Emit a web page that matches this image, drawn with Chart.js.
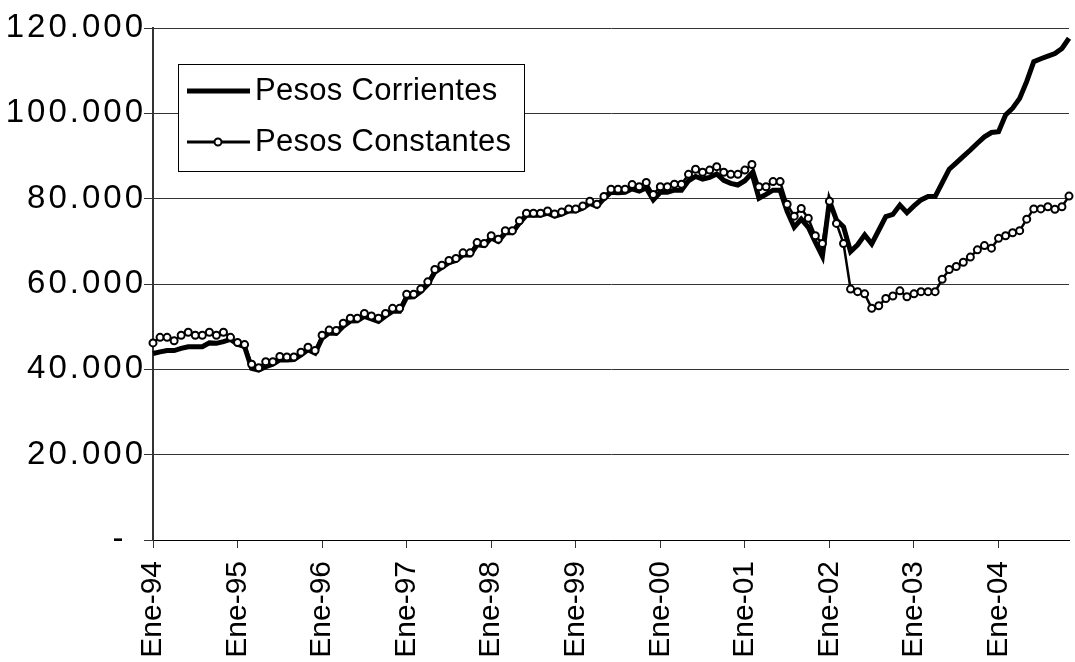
<!DOCTYPE html>
<html>
<head>
<meta charset="utf-8">
<script src="https://cdn.jsdelivr.net/npm/chart.js@4.4.1/dist/chart.umd.min.js"></script>
<style>
  html, body { margin: 0; padding: 0; background: #fff; }
  #wrap { position: relative; width: 1075px; height: 662px; }
</style>
</head>
<body>
<div id="wrap"><canvas id="chart"></canvas></div>
<script>
// Months Jan-94 .. Nov-04, values in thousands of pesos
const monthNames = ["Ene", "Feb", "Mar", "Abr", "May", "Jun", "Jul", "Ago", "Sep", "Oct", "Nov", "Dic"];
const yearNames = ["94", "95", "96", "97", "98", "99", "00", "01", "02", "03", "04"];
const yTickLabels = ["-\u2002", "20.000", "40.000", "60.000", "80.000", "100.000", "120.000"];
const seriesNames = ["Pesos Corrientes", "Pesos Constantes"];

const corrientes = [
  43.7, 44.1, 44.4, 44.4, 44.9, 45.3, 45.3, 45.3, 46.2, 46.1, 46.5, 47.0,
  45.9, 45.3, 40.2, 39.8, 40.6, 41.2, 42.2, 42.2, 42.3, 43.4, 44.6, 43.8,
  47.3, 48.5, 48.4, 50.1, 51.3, 51.4, 52.4, 51.8, 51.2, 52.5, 53.6, 53.6,
  56.9, 57.0, 58.2, 59.9, 62.8, 63.9, 65.0, 65.5, 66.8, 66.8, 69.2, 69.0,
  70.8, 70.0, 72.0, 72.0, 74.3, 76.1, 76.1, 76.1, 76.6, 75.9, 76.4, 77.1,
  77.1, 77.8, 78.9, 78.2, 80.0, 81.5, 81.4, 81.5, 82.3, 81.8, 82.5, 79.7,
  81.5, 81.5, 82.0, 82.0, 84.2, 85.2, 84.6, 85.0, 85.8, 84.3, 83.6, 83.2,
  84.2, 86.0, 80.1, 81.0, 82.0, 82.0, 77.0, 73.3, 75.2, 73.3, 69.8, 66.5,
  79.5, 75.0, 73.4, 67.6, 69.2, 71.5, 69.4, 72.6, 75.8, 76.3, 78.5, 76.7,
  78.3, 79.7, 80.5, 80.5, 83.7, 86.9, 88.4, 89.9, 91.4, 93.0, 94.5, 95.5,
  95.7, 99.6, 101.2, 103.5, 107.5, 112.1, 112.8, 113.4, 114.0, 115.2, 117.6
];

const constantes = [
  46.2, 47.5, 47.5, 46.7, 48.0, 48.7, 48.0, 48.0, 48.7, 48.0, 48.7, 47.5,
  46.3, 45.8, 41.2, 40.4, 41.8, 41.8, 43.0, 42.9, 42.9, 44.0, 45.2, 44.4,
  48.0, 49.2, 49.1, 50.8, 52.0, 52.0, 53.1, 52.5, 52.0, 53.1, 54.3, 54.3,
  57.6, 57.6, 58.8, 60.5, 63.4, 64.4, 65.5, 66.0, 67.3, 67.3, 69.7, 69.5,
  71.3, 70.5, 72.5, 72.5, 74.8, 76.6, 76.6, 76.6, 77.1, 76.4, 76.9, 77.6,
  77.6, 78.3, 79.4, 78.7, 80.5, 82.2, 82.2, 82.2, 83.3, 82.8, 83.8, 81.0,
  82.8, 82.8, 83.4, 83.4, 85.7, 86.9, 86.2, 86.7, 87.5, 86.2, 85.7, 85.7,
  86.7, 88.0, 82.8, 82.8, 84.0, 84.0, 78.7, 75.9, 77.7, 75.4, 71.3, 69.5,
  79.4, 74.2, 69.5, 58.8, 58.2, 57.7, 54.3, 54.9, 56.6, 57.2, 58.4, 57.0,
  57.7, 58.2, 58.2, 58.2, 61.1, 63.4, 64.1, 65.1, 66.3, 68.0, 69.0, 68.4,
  70.7, 71.3, 72.0, 72.5, 75.2, 77.6, 77.6, 78.1, 77.5, 78.1, 80.6
];

const labels = [];
yearNames.forEach((yr) => {
  monthNames.forEach((m) => {
    if (labels.length < constantes.length) labels.push(`${m}-${yr}`);
  });
});

const FONT = "'Liberation Sans', Arial, sans-serif";

// the y labels in the original are set wider than plain Arial
const wideYLabels = {
  id: "wideYLabels",
  beforeDraw(chart) {
    const scale = chart.scales.y;
    if (scale._wide) return;
    const orig = scale.drawLabels.bind(scale);
    scale.drawLabels = (area) => {
      chart.ctx.save();
      chart.ctx.letterSpacing = "3px";
      orig(area);
      chart.ctx.restore();
    };
    scale._wide = true;
  }
};

// legend box drawn inside the plot, like the original
const boxLegend = {
  id: "boxLegend",
  afterDraw(chart) {
    const ctx = chart.ctx;
    const area = chart.chartArea;
    const x = area.left + 25;
    const y = area.top + 36;
    const w = 346;
    const h = 107;
    ctx.save();
    ctx.fillStyle = "#fff";
    ctx.fillRect(x, y, w, h);
    ctx.strokeStyle = "#000";
    ctx.lineWidth = 1;
    ctx.strokeRect(x + 0.5, y + 0.5, w, h);

    ctx.font = `31px ${FONT}`;
    ctx.letterSpacing = "0.3px";
    ctx.textBaseline = "middle";
    ctx.fillStyle = "#000";

    // Pesos Corrientes
    const r1 = y + 27;
    ctx.beginPath();
    ctx.moveTo(x + 9, r1);
    ctx.lineTo(x + 72, r1);
    ctx.lineWidth = 5;
    ctx.stroke();
    ctx.fillText(seriesNames[0], x + 77, r1);

    // Pesos Constantes
    const r2 = y + 78;
    ctx.beginPath();
    ctx.moveTo(x + 9, r2);
    ctx.lineTo(x + 72, r2);
    ctx.lineWidth = 3;
    ctx.stroke();
    ctx.beginPath();
    ctx.arc(x + 40, r2, 3.5, 0, Math.PI * 2);
    ctx.fillStyle = "#fff";
    ctx.fill();
    ctx.lineWidth = 2;
    ctx.stroke();
    ctx.fillStyle = "#000";
    ctx.fillText(seriesNames[1], x + 77, r2);
    ctx.restore();
  }
};

new Chart(document.getElementById("chart"), {
  type: "line",
  data: {
    labels,
    datasets: [
      {
        label: seriesNames[0],
        data: corrientes,
        borderColor: "#000",
        borderWidth: 5,
        pointRadius: 0,
        tension: 0,
        order: 1
      },
      {
        label: seriesNames[1],
        data: constantes,
        borderColor: "#000",
        borderWidth: 2.5,
        pointRadius: 3.5,
        pointBorderWidth: 2,
        pointBackgroundColor: "#fff",
        pointBorderColor: "#000",
        tension: 0,
        order: 0
      }
    ]
  },
  options: {
    responsive: true,
    maintainAspectRatio: false,
    animation: false,
    layout: {
      padding: { top: 28, right: -4, left: 0, bottom: 0 }
    },
    plugins: {
      legend: { display: false },
      tooltip: { enabled: false }
    },
    scales: {
      x: {
        grid: {
          drawOnChartArea: false,
          tickLength: 8,
          color: (ctx) => (ctx.index % 12 === 0 ? "#333" : "rgba(0,0,0,0)")
        },
        border: { color: "#000", width: 1 },
        ticks: {
          autoSkip: false,
          maxRotation: 90,
          minRotation: 90,
          padding: 13,
          color: "#000",
          font: { family: FONT, size: 30 },
          callback: (value, index) => (index % 12 === 0 ? labels[index] : "")
        },
        afterFit: (scale) => {
          scale.height = 122;
          scale.paddingLeft = 0;
          scale.paddingRight = 0;
        }
      },
      y: {
        min: 0,
        max: 120,
        grid: {
          color: "#333",
          lineWidth: 1,
          tickLength: 9
        },
        border: { color: "#333", width: 2 },
        ticks: {
          stepSize: 20,
          padding: -2,
          color: "#000",
          font: { family: FONT, size: 33 },
          callback: (value) => yTickLabels[Math.round(value / 20)]
        },
        afterFit: (scale) => {
          scale.width = 153;
        }
      }
    }
  },
  plugins: [wideYLabels, boxLegend]
});
</script>
</body>
</html>
